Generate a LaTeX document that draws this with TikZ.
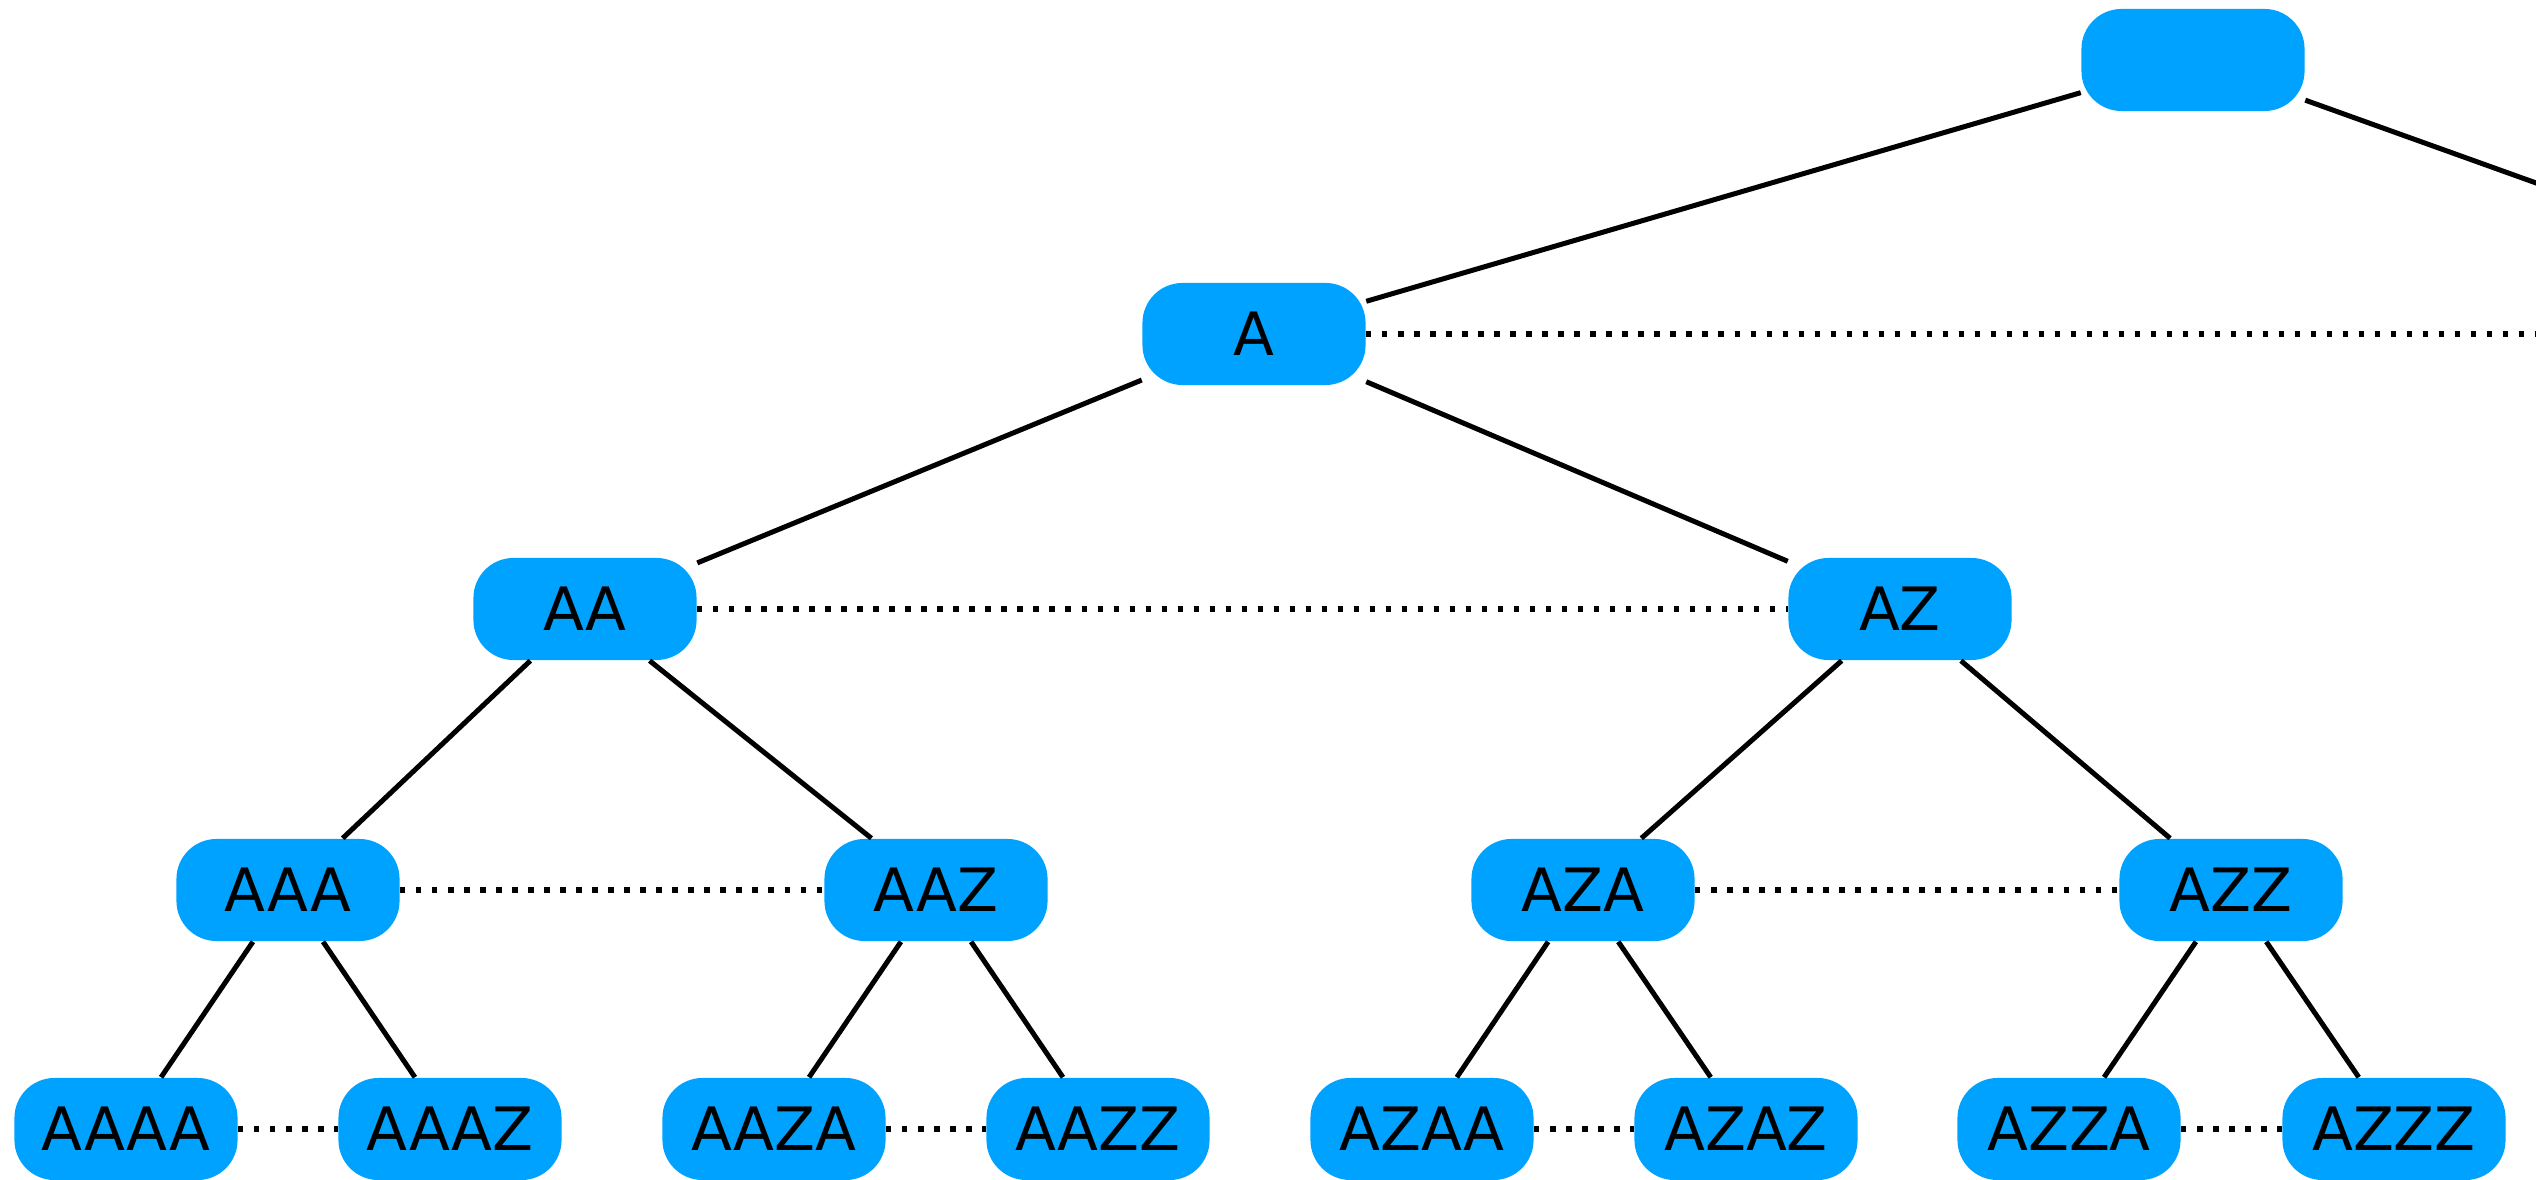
\documentclass[tikz,border=0pt]{standalone}
\usepackage{fontspec}
\setmainfont{DejaVu Sans}
\usetikzlibrary{calc}

\definecolor{keyblue}{RGB}{0,162,255}

\begin{document}
\begin{tikzpicture}[x=0.01cm, y=-0.01cm,
    key/.style={fill=keyblue, rounded corners=0.4cm, inner sep=0pt,
        minimum width=2.23cm, minimum height=1.02cm,
        font=\fontsize{17}{20}\selectfont},
    link/.style={line width=0.05cm},
    sibling/.style={line width=0.052cm, dash pattern=on 0.052cm off 0.108cm}]
    \useasboundingbox (0,0) rectangle (2536,1180);
    \clip (0,0) rectangle (2536,1180);

    % levels 0 to 2
    \node (root) at (2193, 60) [key] {};
    \node (A) at (1254, 334) [key] {A};
    \coordinate (Z) at (2957, 334);
    \node (AA) at (585, 609) [key] {AA};
    \node (AZ) at (1900, 609) [key] {AZ};

    % level 3
    \node (AAA) at (288, 890) [key] {AAA};
    \node (AAZ) at (936, 890) [key] {AAZ};
    \node (AZA) at (1583, 890) [key] {AZA};
    \node (AZZ) at (2231, 890) [key] {AZZ};

    % leaves
    \node (AAAA) at (126, 1129) [key] {AAAA};
    \node (AAAZ) at (450, 1129) [key] {AAAZ};
    \node (AAZA) at (774, 1129) [key] {AAZA};
    \node (AAZZ) at (1098, 1129) [key] {AAZZ};
    \node (AZAA) at (1422, 1129) [key] {AZAA};
    \node (AZAZ) at (1746, 1129) [key] {AZAZ};
    \node (AZZA) at (2069, 1129) [key] {AZZA};
    \node (AZZZ) at (2394, 1129) [key] {AZZZ};

    \draw[link] (root) -- (A);
    \draw[link] (root) -- (Z);
    \draw[link] (A) -- (AA);
    \draw[link] (A) -- (AZ);
    \draw[link] (AA) -- (AAA);
    \draw[link] (AA) -- (AAZ);
    \draw[link] (AZ) -- (AZA);
    \draw[link] (AZ) -- (AZZ);
    \draw[link] (AAA) -- (AAAA);
    \draw[link] (AAA) -- (AAAZ);
    \draw[link] (AAZ) -- (AAZA);
    \draw[link] (AAZ) -- (AAZZ);
    \draw[link] (AZA) -- (AZAA);
    \draw[link] (AZA) -- (AZAZ);
    \draw[link] (AZZ) -- (AZZA);
    \draw[link] (AZZ) -- (AZZZ);

    % siblings on the same level
    \draw[sibling] (A) -- (Z);
    \draw[sibling] (AA) -- (AZ);
    \draw[sibling] (AAA) -- (AAZ);
    \draw[sibling] (AZA) -- (AZZ);
    \draw[sibling] (AAAA) -- (AAAZ);
    \draw[sibling] (AAZA) -- (AAZZ);
    \draw[sibling] (AZAA) -- (AZAZ);
    \draw[sibling] (AZZA) -- (AZZZ);
\end{tikzpicture}
\end{document}
